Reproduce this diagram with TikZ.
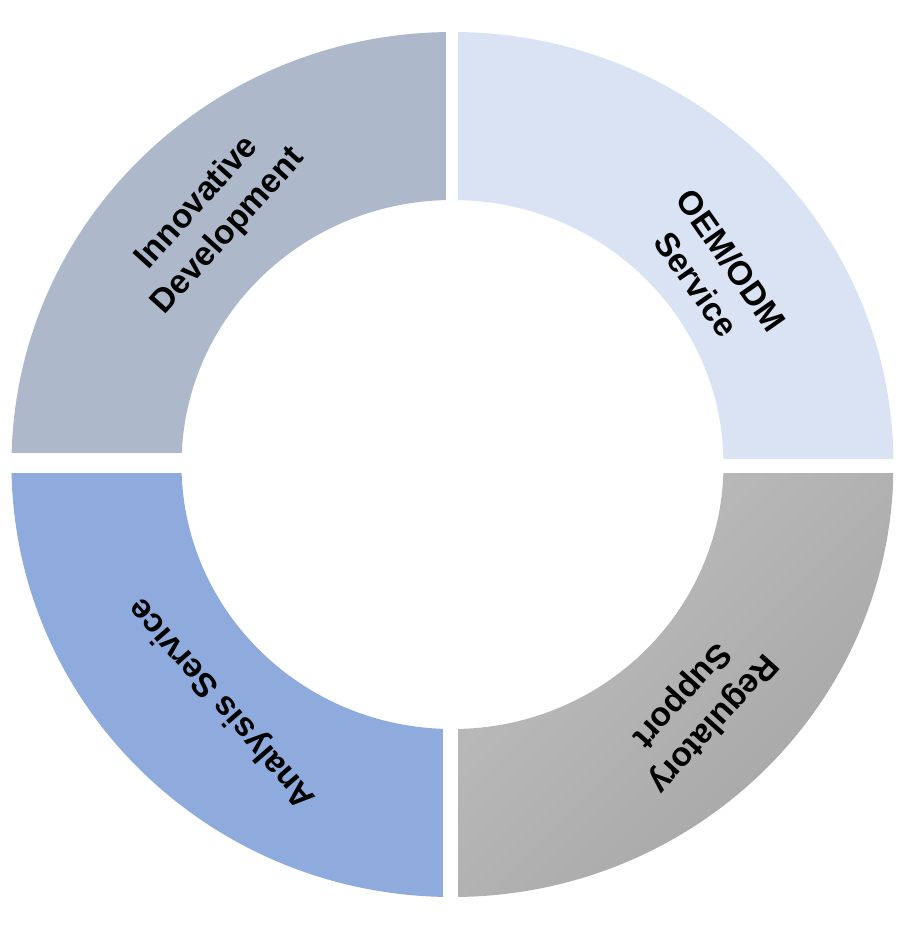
\documentclass[tikz,border=0pt]{standalone}
\usepackage{fontspec}
\setmainfont{Liberation Sans}
\definecolor{devfill}{HTML}{ADB9CA}
\definecolor{oemfill}{HTML}{DAE3F3}
\definecolor{anafill}{HTML}{8FAADC}
\definecolor{reglight}{HTML}{BEBEBE}
\definecolor{regdark}{HTML}{A5A5A5}
\begin{document}
\begin{tikzpicture}[x=1pt,y=-1pt,
    seglabel/.style={font=\bfseries\fontsize{33.5}{42}\selectfont,align=center,inner sep=0pt}]
    \useasboundingbox (0,0) rectangle (916,938);
    \coordinate (c) at (452.5,464.5);
    \begin{scope}[even odd rule]
        \clip (c) ellipse [x radius=441pt,y radius=432.5pt]
            (c) ellipse [x radius=271pt,y radius=264.5pt];
        \fill[devfill] (0,0) rectangle (446,453);
        \fill[oemfill] (458,0) rectangle (916,459);
        \fill[anafill] (0,473) rectangle (443,938);
        \shade[left color=reglight,right color=regdark,shading angle=45] (458,473) rectangle (893,897);
    \end{scope}
    \node[seglabel,rotate=48] (dev) at (213,217) {Innovative\\Development};
    \node[seglabel,rotate=-55] (oem) at (714,272) {OEM/ODM\\Service};
    \node[seglabel,rotate=228] (reg) at (697,709) {Regulatory\\Support};
    \node[seglabel,rotate=131] (ana) at (223,703) {Analysis Service};
\end{tikzpicture}
\end{document}
